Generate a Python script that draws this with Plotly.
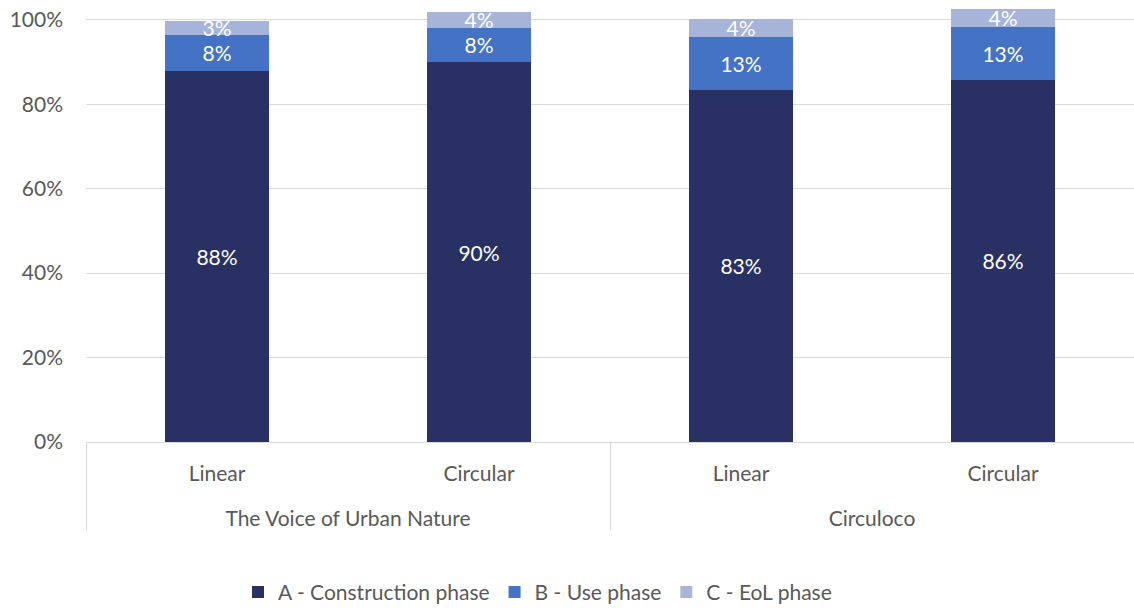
import plotly.graph_objects as go

# Life-cycle phase shares per project and scenario
projects = ["The Voice of Urban Nature", "The Voice of Urban Nature", "Circuloco", "Circuloco"]
scenarios = ["Linear", "Circular", "Linear", "Circular"]

construction = [88.0, 90.0, 83.4, 85.8]
use_phase = [8.4, 8.1, 12.6, 12.6]
eol_phase = [3.4, 3.8, 4.2, 4.1]

series = [
    ("A - Construction phase", construction, "#283064"),
    ("B - Use phase", use_phase, "#4472C4"),
    ("C - EoL phase", eol_phase, "#A7B4DA"),
]

FONT = "Lato, 'Open Sans', sans-serif"
GREY = "#595959"
SIZE = 21

# a tall blank second line under each scenario name spaces out the project row
scenario_rows = [s + "<br><span style='font-size:34px'> </span>" for s in scenarios]

fig = go.Figure()
for name, vals, color in series:
    fig.add_trace(go.Bar(
        name=name,
        x=[projects, scenario_rows],
        y=vals,
        marker=dict(color=color, line=dict(width=0)),
        texttemplate="%{y:.0f}%",
        textposition="inside",
        insidetextanchor="middle",
        textfont=dict(color="white", size=SIZE, family=FONT),
        hovertemplate="%{y:.1f}%<extra>" + name + "</extra>",
    ))

fig.update_layout(
    barmode="stack",
    bargap=0.6,
    width=1134,
    height=608,
    margin=dict(l=86, r=0, t=0, b=166, autoexpand=False),
    paper_bgcolor="white",
    plot_bgcolor="white",
    font=dict(family=FONT, color=GREY, size=SIZE),
    uniformtext=dict(minsize=SIZE, mode="show"),
    legend=dict(
        orientation="h",
        xref="container",
        x=0.474, xanchor="center",
        y=-0.34, yanchor="middle",
        font=dict(size=SIZE, color=GREY),
        traceorder="normal",
        itemsizing="constant",
    ),
    showlegend=True,
)

fig.update_yaxes(
    range=[0, 104.7],
    tickvals=[0, 20, 40, 60, 80, 100],
    ticktext=["0%", "20%", "40%", "60%", "80%", "100%"],
    showgrid=True,
    gridcolor="#D9D9D9",
    gridwidth=1.3,
    zeroline=False,
    showline=False,
    ticks="",
    ticklabelstandoff=22,
    tickfont=dict(size=SIZE, color=GREY),
    automargin=False,
)

fig.update_xaxes(
    type="multicategory",
    showline=True,
    linecolor="#D9D9D9",
    linewidth=1.3,
    showdividers=True,
    dividercolor="#D9D9D9",
    dividerwidth=1.3,
    tickfont=dict(size=SIZE, color=GREY),
    ticks="",
    ticklabelstandoff=13,
    automargin=False,
)

fig.write_html("out.html")
